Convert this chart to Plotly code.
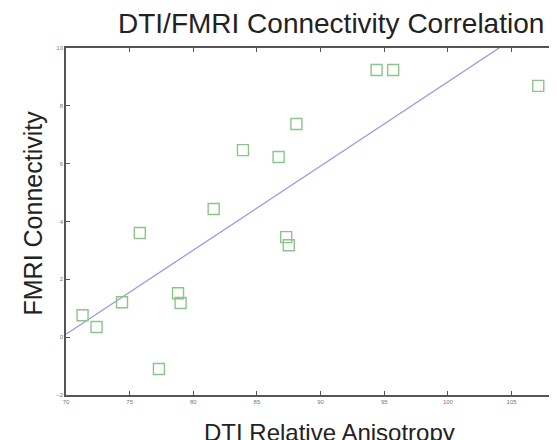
import plotly.graph_objects as go

dti = [71.3, 72.4, 74.4, 75.8, 77.3, 78.8, 79.0, 81.6, 83.9, 86.7, 88.1, 87.3, 87.5, 94.4, 95.7, 107.1]
fmri = [0.76, 0.35, 1.21, 3.6, -1.1, 1.52, 1.18, 4.43, 6.47, 6.23, 7.37, 3.46, 3.18, 9.24, 9.24, 8.69]
fit_x = [70, 110]
fit_y = [0.10, 11.74]
x_ticks = [70, 75, 80, 85, 90, 95, 100, 105]
y_ticks = [-2, 0, 2, 4, 6, 8, 10]

fig = go.Figure()
fig.add_trace(go.Scatter(x=fit_x, y=fit_y, mode="lines",
                         line=dict(color="#9a9ae6", width=1.3), showlegend=False))
fig.add_trace(go.Scatter(x=dti, y=fmri, mode="markers",
                         marker=dict(symbol="square-open", size=11, color="#8cc48c",
                                     line=dict(width=1.4, color="#8cc48c")),
                         showlegend=False))

axis_common = dict(showgrid=False, zeroline=False, showline=True, linecolor="#555555",
                   linewidth=1.5, ticks="inside", ticklen=4, tickcolor="#555555",
                   tickfont=dict(size=6, color="#777777", family="Liberation Sans"))
fig.update_xaxes(range=[70, 109.2], tickvals=x_ticks, mirror="ticks", **axis_common)
fig.update_yaxes(range=[-2, 10], tickvals=y_ticks, mirror=False, **axis_common)

fig.update_layout(
    width=557, height=440,
    margin=dict(l=58, r=0, t=40, b=53),
    paper_bgcolor="white", plot_bgcolor="white",
    font=dict(family="Liberation Sans", color="#222222"),
    annotations=[
        dict(text="DTI/FMRI Connectivity Correlation", xref="paper", yref="paper",
             x=0.532, y=1.0, yshift=25, xanchor="center", yanchor="middle",
             showarrow=False, font=dict(size=28, color="#222222")),
        dict(text="DTI Relative Anisotropy", xref="paper", yref="paper",
             x=0.529, y=0, yshift=-37, xanchor="center", yanchor="middle",
             showarrow=False, font=dict(size=24, color="#222222")),
        dict(text="FMRI Connectivity", xref="paper", yref="paper",
             x=0, xshift=-33, y=0.523, xanchor="center", yanchor="middle", textangle=-90,
             showarrow=False, font=dict(size=25, color="#222222")),
    ],
)
fig.write_html("out.html")
